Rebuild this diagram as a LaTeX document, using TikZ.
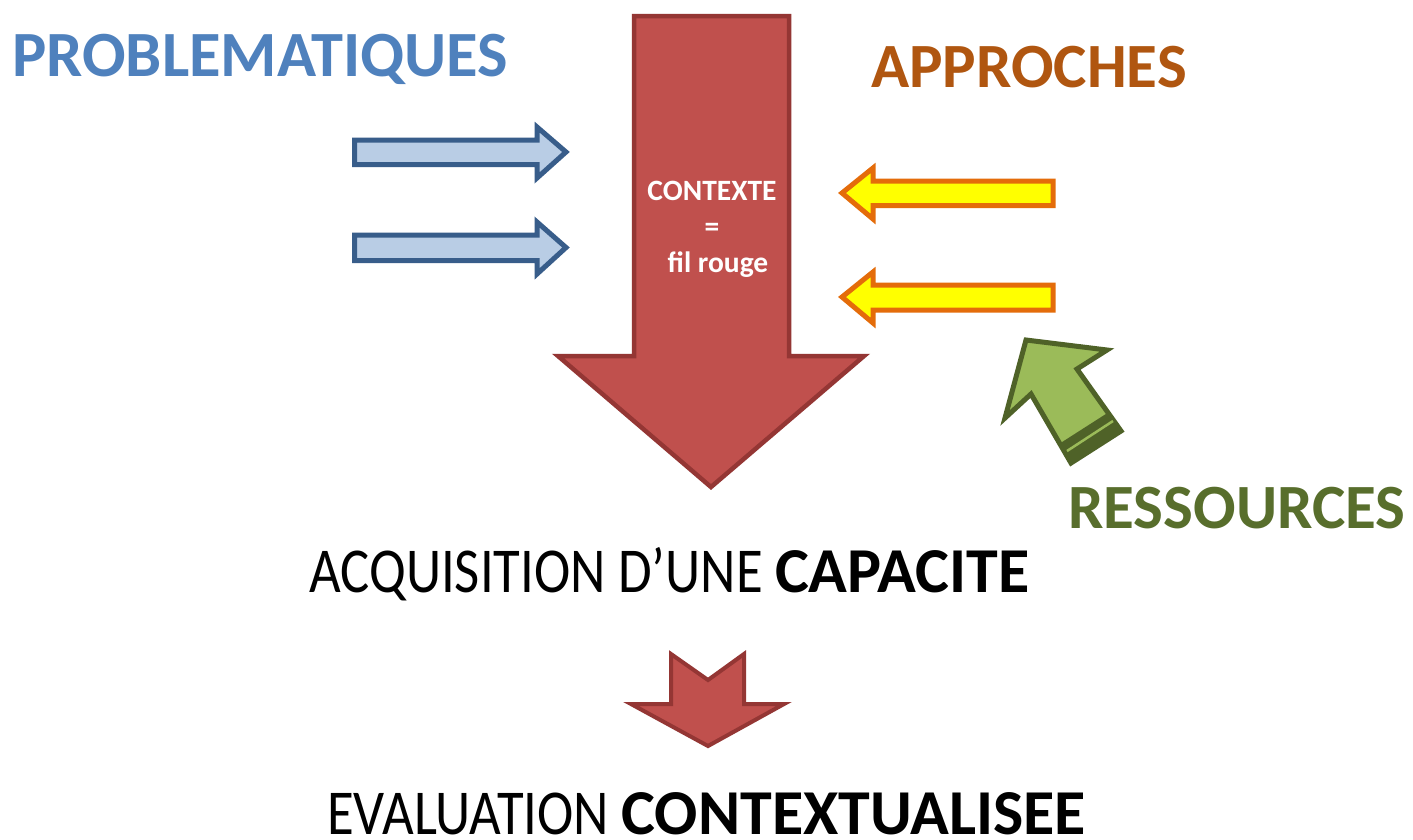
\documentclass[tikz,border=0pt]{standalone}
\usepackage{fontspec}
\setmainfont{Carlito}
\newfontfamily\narrowreg[FakeStretch=0.855]{Carlito}
\definecolor{probblue}{RGB}{79,129,189}
\definecolor{arrblueF}{RGB}{185,205,229}
\definecolor{arrblueD}{RGB}{56,93,138}
\definecolor{approch}{RGB}{176,86,16}
\definecolor{yelF}{RGB}{255,255,0}
\definecolor{yelD}{RGB}{228,108,10}
\definecolor{resgreen}{RGB}{88,110,44}
\definecolor{grF}{RGB}{155,187,89}
\definecolor{grD}{RGB}{79,98,40}
\definecolor{redF}{RGB}{192,80,77}
\definecolor{redD}{RGB}{148,54,52}
\tikzset{
  bluearrow/.style={fill=arrblueF,draw=arrblueD,line width=5pt,line join=miter},
  yelarrow/.style={fill=yelF,draw=yelD,line width=5pt,line join=miter},
  redarrow/.style={fill=redF,draw=redD,line width=4.5pt,line join=miter},
  grarrow/.style={fill=grF,draw=grD,line width=5pt,line join=miter},
  title/.style={inner sep=0pt,anchor=base west,font=\fontsize{#1}{70}\selectfont\bfseries},
  bigtext/.style={inner sep=0pt,anchor=base west,font=\fontsize{64}{70}\selectfont},
  ctx/.style={inner sep=0pt,anchor=base,text=white,font=\fontsize{29.5}{32}\selectfont\bfseries}
}
\begin{document}
\begin{tikzpicture}[x=1pt,y=-1pt]
\useasboundingbox[fill=white] (0,0) rectangle (1413,839);
% big red arrow
\draw[redarrow] (634,16) -- (789,16) -- (789,356) -- (864,356) -- (711,487) -- (558,356) -- (634,356) -- cycle;
% blue arrows
\draw[bluearrow] (354.5,140) -- (537,140) -- (537,127) -- (566,152) -- (537,178) -- (537,164.5) -- (354.5,164.5) -- cycle;
\draw[bluearrow] (354.5,235) -- (537,235) -- (537,222) -- (566,247.5) -- (537,274) -- (537,260.5) -- (354.5,260.5) -- cycle;
% yellow arrows
\draw[yelarrow] (1053,181) -- (873,181) -- (873,168) -- (842,193) -- (873,219) -- (873,205.5) -- (1053,205.5) -- cycle;
\draw[yelarrow] (1053,285) -- (873,285) -- (873,272) -- (842,297) -- (873,323) -- (873,310) -- (1053,310) -- cycle;
% green arrow
\draw[grarrow] (1026,340) -- (1107,350) -- (1077,369) -- (1121,431) -- (1071,463) -- (1031,394) -- (1005,418) -- cycle;
\fill[grD] (1059,444) -- (1109,412) -- (1121,431) -- (1071,463) -- cycle;
\draw[grF,line width=2.5pt] (1067,451) -- (1113,421);
% small red arrow
\draw[redarrow,line width=4pt] (671,654) -- (708,680) -- (744,654) -- (744,704) -- (784,704) -- (708,746) -- (631,704) -- (671,704) -- cycle;
% texts
\node[title=64.5,text=probblue] (prob) at (12,76) {PROBLEMATIQUES};
\node[title=63,text=approch] (appr) at (871,87) {APPROCHES};
\node[title=63,text=resgreen] (ress) at (1068,528) {RESSOURCES};
\node[ctx] (c1) at (712,200) {CONTEXTE};
\node[ctx] (c2) at (712,236) {=};
\node[ctx] (c3) at (718,272) {fil rouge};
\node[bigtext] (acq) at (309,592) {{\narrowreg ACQUISITION D’UNE }\textbf{CAPACITE}};
\node[bigtext] (eval) at (327,834) {{\narrowreg EVALUATION }\textbf{CONTEXTUALISEE}};
\end{tikzpicture}
\end{document}
